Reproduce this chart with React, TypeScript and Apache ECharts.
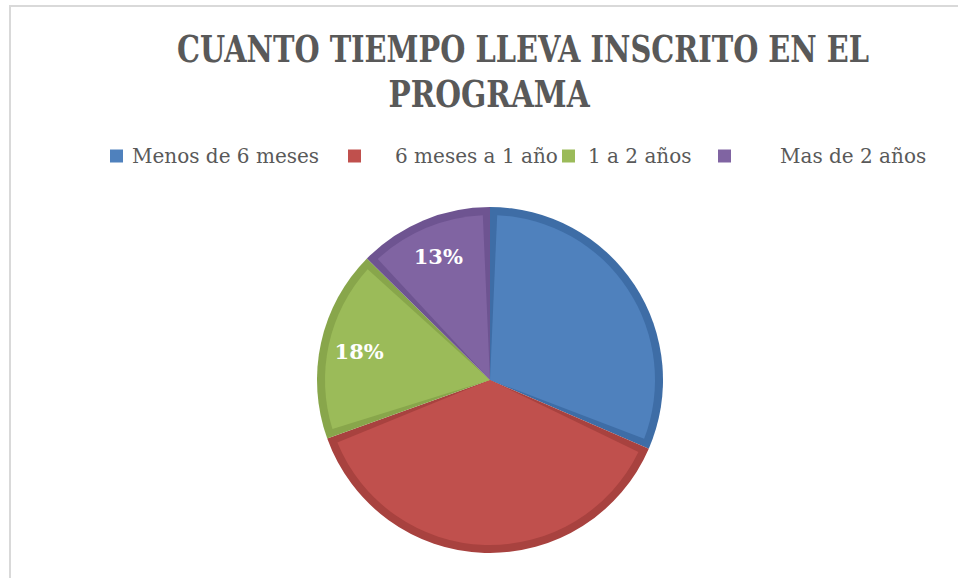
import React, { useEffect, useRef } from "react";
import * as echarts from "echarts";

const titleLine1 = "CUANTO TIEMPO LLEVA INSCRITO EN EL";
const titleLine2 = "PROGRAMA";
const categories = ["Menos de 6 meses", "6 meses a 1 año", "1 a 2 años", "Mas de 2 años"];
const values = [31.5, 38.0, 17.9, 12.6];
const mainColors = ["#4F81BD", "#C0504D", "#9BBB59", "#8064A2"];
const edgeColors = ["#3E6DA6", "#A8423F", "#88A64B", "#6E5491"];
const showLabel = [false, false, true, true];
const legendLeft = [110, 348, 562, 718];
const legendTextPad = [4, 29, 8, 44];

export default function App() {
  const ref = useRef<HTMLDivElement>(null);
  useEffect(() => {
    if (!ref.current) return;
    const chart = echarts.init(ref.current, undefined, { renderer: "svg" });
    const textColor = "#595959";
    const serif = "'DejaVu Serif', 'Liberation Serif', serif";
    chart.setOption({
      animation: false,
      backgroundColor: "#ffffff",
      graphic: [
        {
          type: "rect",
          shape: { x: 10, y: 6, width: 1200, height: 1000 },
          style: { fill: "none", stroke: "#d9d9d9", lineWidth: 2 },
          silent: true,
        },
        {
          type: "text",
          x: 523,
          y: 49,
          scaleX: 0.78,
          style: {
            text: titleLine1,
            font: `bold 37px ${serif}`,
            fill: textColor,
            align: "center",
            verticalAlign: "middle",
          },
        },
        {
          type: "text",
          x: 489,
          y: 94,
          scaleX: 0.8,
          style: {
            text: titleLine2,
            font: `bold 37px ${serif}`,
            fill: textColor,
            align: "center",
            verticalAlign: "middle",
          },
        },
      ],
      legend: categories.map((c, i) => ({
        data: [{ name: c, itemStyle: { color: mainColors[i] } }],
        left: legendLeft[i],
        top: 146,
        icon: "rect",
        itemWidth: 13,
        itemHeight: 13,
        padding: 0,
        selectedMode: false,
        textStyle: {
          fontFamily: serif,
          fontSize: 20,
          color: textColor,
          padding: [0, 0, 0, legendTextPad[i]],
        },
      })),
      series: [
        {
          type: "pie",
          name: "base",
          center: [490, 380],
          radius: [0, 173],
          startAngle: 90,
          z: 1,
          silent: true,
          label: { show: false },
          labelLine: { show: false },
          data: categories.map((c, i) => ({
            name: c,
            value: values[i],
            itemStyle: { color: edgeColors[i] },
          })),
        },
        {
          type: "pie",
          name: "face",
          center: [490, 380],
          radius: [0, 165],
          startAngle: 90,
          padAngle: 5,
          z: 2,
          silent: true,
          label: { show: false },
          labelLine: { show: false },
          data: categories.map((c, i) => ({
            name: c,
            value: values[i],
            itemStyle: { color: mainColors[i] },
          })),
        },
        {
          type: "pie",
          name: "labels",
          center: [490, 380],
          radius: [96, 166],
          startAngle: 90,
          z: 3,
          silent: true,
          percentPrecision: 0,
          itemStyle: { color: "transparent" },
          labelLine: { show: false },
          label: {
            position: "inside",
            formatter: "{d}%",
            color: "#ffffff",
            fontFamily: serif,
            fontWeight: "bold",
            fontSize: 21,
          },
          data: categories.map((c, i) => ({
            name: c,
            value: values[i],
            itemStyle: { color: "transparent" },
            label: { show: showLabel[i] },
          })),
        },
      ],
    });
    return () => chart.dispose();
  }, []);
  return (
    <div
      ref={ref}
      style={{ position: "fixed", left: 0, top: 0, width: 958, height: 578 }}
    />
  );
}
